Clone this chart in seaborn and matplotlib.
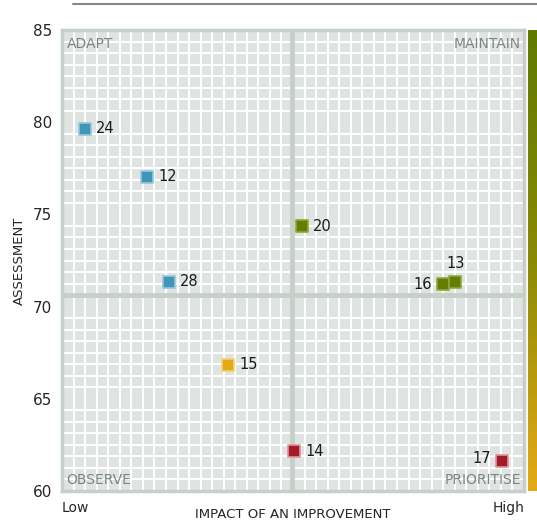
import matplotlib
matplotlib.use("Agg")
import matplotlib.pyplot as plt
import numpy as np
import pandas as pd
import seaborn as sns

# ---- data ----
ids = ["24", "12", "28", "15", "20", "14", "16", "13", "17"]
impact = [5.0, 18.4, 23.2, 35.9, 51.9, 50.2, 82.5, 85.1, 95.2]
assessment = [79.65, 77.05, 71.35, 66.85, 74.35, 62.15, 71.2, 71.35, 61.6]
quadrant = ["ADAPT", "ADAPT", "ADAPT", "OBSERVE", "MAINTAIN",
            "PRIORITISE", "MAINTAIN", "MAINTAIN", "PRIORITISE"]
y_ticks = [60, 65, 70, 75, 80, 85]

df = pd.DataFrame({"id": ids, "x": impact, "y": assessment, "q": quadrant})

fill = {"ADAPT": "#3f96b6", "MAINTAIN": "#637e00", "OBSERVE": "#e3a919", "PRIORITISE": "#a11b2b"}
edge = {"ADAPT": "#95c8da", "MAINTAIN": "#8fa93a", "OBSERVE": "#f3d274", "PRIORITISE": "#e39298"}
# label placement (offset in points, ha)
lab_pos = {"16": (-8, 0, "right"), "17": (-8, 2, "right"), "13": (0, 13, "center")}

sns.set_style("white")
plt.rcParams["font.family"] = ["DejaVu Sans"]

fig = plt.figure(figsize=(5.37, 5.21), dpi=100)
ax = fig.add_axes([0.1155, 0.0576, 0.8603, 0.8848])
ax.set_facecolor("#dfe3e1")
ax.set_xlim(0, 100)
ax.set_ylim(60, 85)

# fine white grid 40x40
ax.set_xticks(np.linspace(0, 100, 41), minor=True)
ax.set_yticks(np.linspace(60, 85, 41), minor=True)
ax.grid(which="minor", color="white", linewidth=1.5)
ax.tick_params(which="both", length=0)
ax.set_axisbelow(True)

# quadrant split at means
ax.axvline(np.mean(impact), color="#c6cfc8", linewidth=3.5, zorder=1)
ax.axhline(np.mean(assessment), color="#c6cfc8", linewidth=3.5, zorder=1)

for q in fill:
    sub = df[df.q == q]
    sns.scatterplot(data=sub, x="x", y="y", marker="s", s=68, color=fill[q],
                    edgecolor=edge[q], linewidth=1.2, ax=ax, zorder=3, legend=False)

for i, row in df.iterrows():
    dx, dy, ha = lab_pos.get(row["id"], (8, 0, "left"))
    ax.annotate(row["id"], (row["x"], row["y"]), xytext=(dx, dy), textcoords="offset points",
                ha=ha, va="center", fontsize=10.5, color="#1a1a1a", zorder=4)

qc = "#7a8781"
ax.text(1, 84.6, "ADAPT", ha="left", va="top", fontsize=10, color=qc)
ax.text(99.3, 84.6, "MAINTAIN", ha="right", va="top", fontsize=10, color=qc)
ax.text(1, 60.2, "OBSERVE", ha="left", va="bottom", fontsize=10, color=qc)
ax.text(99.3, 60.2, "PRIORITISE", ha="right", va="bottom", fontsize=10, color=qc)

ax.set_xticks([])
ax.set_yticks(y_ticks)
ax.set_yticklabels([str(t) for t in y_ticks], fontsize=11)
ax.tick_params(axis="y", pad=7)
ax.set_xlabel("")
ax.set_ylabel("ASSESSMENT", fontsize=9.5, labelpad=5)
for s in ax.spines.values():
    s.set_color("#c6cfc8")
    s.set_linewidth(2.5)

ax.text(0, -0.022, "Low", transform=ax.transAxes, ha="left", va="top", fontsize=10)
ax.text(1, -0.022, "High", transform=ax.transAxes, ha="right", va="top", fontsize=10)
ax.text(0.5, -0.036, "IMPACT OF AN IMPROVEMENT", transform=ax.transAxes,
        ha="center", va="top", fontsize=9.5)

# colour bar on the right
cax = fig.add_axes([0.983, 0.0576, 0.017, 0.8848])
grad = np.linspace(0, 1, 256).reshape(-1, 1)
cmap = matplotlib.colors.LinearSegmentedColormap.from_list("g", ["#e6aa17", "#8a8a06", "#5f7a00"])
cax.imshow(grad, aspect="auto", cmap=cmap, origin="lower")
cax.axis("off")

# header rule
fig.add_artist(plt.Line2D([0.136, 1.0], [0.992, 0.992], color="#7f8c86", linewidth=1.5))

fig.savefig("out.png", dpi=100)
